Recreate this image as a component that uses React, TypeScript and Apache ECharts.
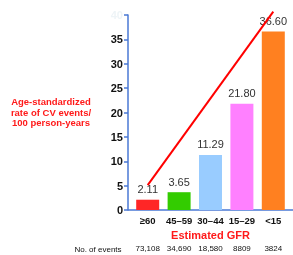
import React, { useEffect, useRef } from "react";
import * as echarts from "echarts";

const categories = ["≥60", "45–59", "30–44", "15–29", "<15"];
const rates = [2.11, 3.65, 11.29, 21.8, 36.6];
const rateLabels = ["2.11", "3.65", "11.29", "21.80", "36.60"];
const barColors = ["#ff2626", "#33cc00", "#99ccff", "#ff80ff", "#ff8020"];
const eventCounts = ["73,108", "34,690", "18,580", "8809", "3824"];
const trendLine = [
  [0, 5.1],
  [4, 40.7],
];
const yTicks = [0, 40, 5];

export default function App() {
  const ref = useRef<HTMLDivElement>(null);
  useEffect(() => {
    if (!ref.current) return;
    const chart = echarts.init(ref.current, undefined, { renderer: "svg" });
    const font = "Liberation Sans, Arial, sans-serif";
    chart.setOption({
      animation: false,
      textStyle: { fontFamily: font },
      grid: { left: 132, right: 4, top: 15, bottom: 45, containLabel: false },
      xAxis: [
        {
          type: "category",
          data: categories,
          axisLine: { show: false },
          axisTick: { show: false },
          axisLabel: { interval: 0, color: "#111", fontWeight: "bold", fontSize: 9.5, margin: 5, fontFamily: font },
          name: "Estimated GFR",
          nameLocation: "middle",
          nameGap: 15,
          nameTextStyle: { color: "#ff1a1a", fontWeight: "bold", fontSize: 11, fontFamily: font },
        },
        {
          type: "category",
          position: "bottom",
          offset: 34,
          data: eventCounts,
          axisLine: { show: false },
          axisTick: { show: false },
          axisLabel: { interval: 0, color: "#111", fontSize: 8, margin: 0, fontFamily: font },
        },
      ],
      yAxis: {
        type: "value",
        min: yTicks[0],
        max: yTicks[1],
        interval: yTicks[2],
        offset: 4,
        splitLine: { show: false },
        axisLine: { show: true, lineStyle: { color: "#4a78d4", width: 1.5 } },
        axisTick: { show: true, length: 4, lineStyle: { color: "#4a78d4", width: 1.5 } },
        axisLabel: {
          fontWeight: "bold",
          fontSize: 11,
          margin: 5,
          fontFamily: font,
          color: (v: any) => (Number(v) === 40 ? "#eef4f7" : "#111"),
        },
      },
      series: [
        {
          type: "bar",
          barWidth: 23,
          data: rates.map((v, i) => ({ value: v, itemStyle: { color: barColors[i] } })),
          label: {
            show: true,
            position: "top",
            distance: 5,
            color: "#333",
            fontSize: 11,
            fontFamily: font,
            formatter: (p: any) => rateLabels[p.dataIndex],
          },
        },
        {
          type: "line",
          data: trendLine,
          clip: false,
          symbol: "none",
          z: 5,
          lineStyle: { color: "#ff0000", width: 2 },
        },
      ],
      graphic: [
        {
          type: "line",
          shape: { x1: 128, y1: 210, x2: 293, y2: 210 },
          style: { stroke: "#4a78d4", lineWidth: 1.5 },
        },
        {
          type: "text",
          x: 51,
          y: 112,
          style: {
            text: "Age-standardized\nrate of CV events/\n100 person-years",
            fill: "#ff1a1a",
            font: "bold 9.5px Liberation Sans, Arial, sans-serif",
            align: "center",
            verticalAlign: "middle",
            lineHeight: 10.5,
          },
        },
        {
          type: "text",
          x: 98,
          y: 249,
          style: {
            text: "No. of events",
            fill: "#111",
            font: "8px Liberation Sans, Arial, sans-serif",
            align: "center",
            verticalAlign: "middle",
          },
        },
      ],
    });
    return () => chart.dispose();
  }, []);
  return <div ref={ref} style={{ position: "fixed", left: 0, top: 0, width: 293, height: 255 }} />;
}
